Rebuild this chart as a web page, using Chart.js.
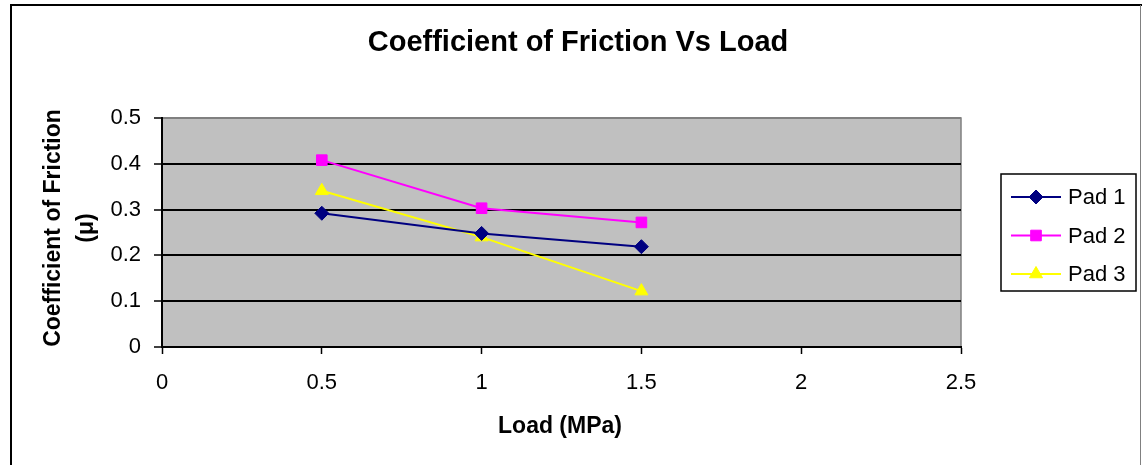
<!DOCTYPE html>
<html>
<head>
<meta charset="utf-8">
<script src="https://cdn.jsdelivr.net/npm/chart.js@4/dist/chart.umd.min.js"></script>
<style>
  html, body { margin: 0; padding: 0; background: #fff; }
  canvas { display: block; }
</style>
</head>
<body>
<canvas id="chart" width="1142" height="465"></canvas>
<script>
// --- Data ---
const loads   = [0.5, 1, 1.5];
const pad1    = [0.292, 0.248, 0.219];
const pad2    = [0.408, 0.303, 0.272];
const pad3    = [0.341, 0.240, 0.122];
const xTicks  = [0, 0.5, 1, 1.5, 2, 2.5];
const yTicks  = [0, 0.1, 0.2, 0.3, 0.4, 0.5];
const padNames = ['Pad 1', 'Pad 2', 'Pad 3'];

const TITLE   = 'Coefficient of Friction Vs Load';
const Y_TITLE = ['Coefficient of Friction', '(\u03bc)'];
const X_TITLE = 'Load (MPa)';

const FONT = "'Liberation Sans', Arial, sans-serif";

// --- Helpers ---
const toPoints = ys => loads.map((x, i) => ({ x: x, y: ys[i] }));

function series(label, ys, color, style, radius) {
  return {
    label: label,
    data: toPoints(ys),
    borderColor: color,
    backgroundColor: color,
    borderWidth: 2,
    pointStyle: style,
    pointRadius: radius,
    pointBorderWidth: 1,
    showLine: true,
    fill: false,
    tension: 0,
  };
}

// legend marker, same shapes as the chart's point styles
function marker(ctx, style, radius, x, y, color) {
  ctx.save();
  ctx.fillStyle = color;
  ctx.strokeStyle = color;
  ctx.lineWidth = 1;
  ctx.beginPath();
  if (style === 'rectRot') {
    ctx.moveTo(x, y - radius);
    ctx.lineTo(x + radius, y);
    ctx.lineTo(x, y + radius);
    ctx.lineTo(x - radius, y);
  } else if (style === 'rect') {
    const s = radius * Math.SQRT1_2;
    ctx.rect(x - s, y - s, 2 * s, 2 * s);
  } else {
    const dx = radius * Math.cos(Math.PI / 6);
    ctx.moveTo(x, y - radius);
    ctx.lineTo(x + dx, y + radius / 2);
    ctx.lineTo(x - dx, y + radius / 2);
  }
  ctx.closePath();
  ctx.fill();
  ctx.stroke();
  ctx.restore();
}

// --- Frame, plot background, titles and legend ---
const decorations = {
  id: 'decorations',
  beforeDraw(chart) {
    const { ctx, chartArea: a } = chart;
    ctx.save();
    ctx.fillStyle = '#ffffff';
    ctx.fillRect(0, 0, chart.width, chart.height);

    // outer frame
    ctx.strokeStyle = '#000000';
    ctx.lineWidth = 2;
    ctx.beginPath();
    ctx.moveTo(11, chart.height);
    ctx.lineTo(11, 5);
    ctx.lineTo(chart.width, 5);
    ctx.stroke();
    ctx.strokeStyle = '#808080';
    ctx.lineWidth = 1;
    ctx.beginPath();
    ctx.moveTo(chart.width - 1.5, 5);
    ctx.lineTo(chart.width - 1.5, chart.height);
    ctx.stroke();

    // plot area
    ctx.fillStyle = '#c0c0c0';
    ctx.fillRect(a.left, a.top, a.right - a.left, a.bottom - a.top);
    ctx.strokeStyle = '#808080';
    ctx.lineWidth = 1.5;
    ctx.strokeRect(a.left, a.top, a.right - a.left, a.bottom - a.top);
    ctx.restore();
  },
  afterDraw(chart) {
    const { ctx } = chart;
    ctx.save();
    ctx.fillStyle = '#000000';
    ctx.textAlign = 'center';
    ctx.textBaseline = 'middle';

    ctx.font = 'bold 29px ' + FONT;
    ctx.fillText(TITLE, 578, 43);

    ctx.font = 'bold 23px ' + FONT;
    ctx.fillText(X_TITLE, 560, 427);

    ctx.save();
    ctx.translate(70, 228);
    ctx.rotate(-Math.PI / 2);
    ctx.fillText(Y_TITLE[0], 0, -16);
    ctx.fillText(Y_TITLE[1], 0, 17);
    ctx.restore();

    // legend
    const box = { left: 1001, top: 174, right: 1136, bottom: 291 };
    ctx.strokeStyle = '#000000';
    ctx.lineWidth = 1.5;
    ctx.strokeRect(box.left, box.top, box.right - box.left, box.bottom - box.top);

    ctx.font = '22px ' + FONT;
    ctx.textAlign = 'left';
    chart.data.datasets.forEach((ds, i) => {
      const y = 197 + i * 38.5;
      ctx.strokeStyle = ds.borderColor;
      ctx.lineWidth = 2;
      ctx.beginPath();
      ctx.moveTo(1011, y);
      ctx.lineTo(1061, y);
      ctx.stroke();
      marker(ctx, ds.pointStyle, ds.pointRadius, 1036, y, ds.backgroundColor);
      ctx.fillStyle = '#000000';
      ctx.fillText(ds.label, 1068, y + 1);
    });
    ctx.restore();
  }
};

// --- Chart ---
const chart = new Chart(document.getElementById('chart'), {
  type: 'scatter',
  data: {
    datasets: [
      series(padNames[0], pad1, '#000080', 'rectRot', 7),
      series(padNames[1], pad2, '#ff00ff', 'rect', 7.5),
      series(padNames[2], pad3, '#ffff00', 'triangle', 7.5),
    ]
  },
  options: {
    responsive: false,
    animation: false,
    devicePixelRatio: 1,
    layout: { padding: { top: 118, right: 181, bottom: 0, left: 0 } },
    plugins: {
      legend: { display: false },
      tooltip: { enabled: false },
      title: { display: false },
    },
    scales: {
      x: {
        type: 'linear',
        min: 0,
        max: 2.5,
        afterFit: s => { s.height = 118; },
        afterBuildTicks: s => { s.ticks = xTicks.map(v => ({ value: v })); },
        ticks: {
          color: '#000000',
          font: { family: FONT, size: 22 },
          padding: 16,
          maxRotation: 0,
          callback: v => String(v),
        },
        grid: {
          drawOnChartArea: false,
          drawTicks: true,
          tickLength: 7,
          tickColor: '#000000',
          tickWidth: 1.5,
        },
        border: { display: true, color: '#000000', width: 2 },
      },
      y: {
        type: 'linear',
        min: 0,
        max: 0.5,
        afterFit: s => { s.width = 162; },
        afterBuildTicks: s => { s.ticks = yTicks.map(v => ({ value: v })); },
        ticks: {
          color: '#000000',
          font: { family: FONT, size: 22 },
          padding: 13,
          callback: v => String(v),
        },
        grid: {
          color: ctx => (ctx.tick && ctx.tick.value === 0.5 ? '#808080' : '#000000'),
          lineWidth: 2,
          drawTicks: true,
          tickLength: 8,
          tickColor: '#000000',
          tickWidth: 1.5,
        },
        border: { display: true, color: '#000000', width: 2 },
      }
    }
  },
  plugins: [decorations]
});
</script>
</body>
</html>
